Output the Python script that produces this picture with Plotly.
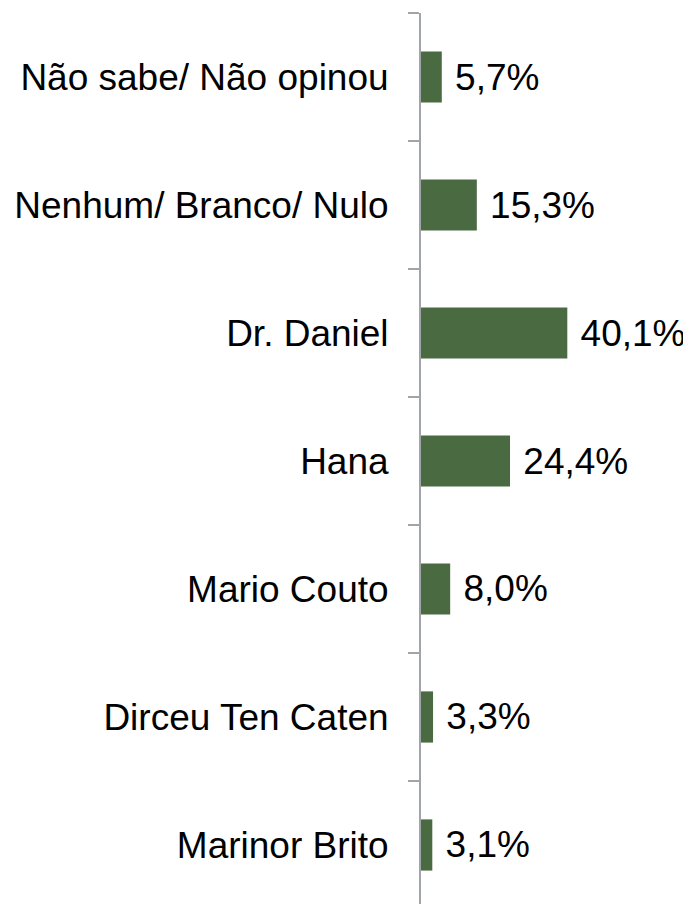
import plotly.graph_objects as go

# Data (top to bottom as shown)
categories = ["Não sabe/ Não opinou", "Nenhum/ Branco/ Nulo", "Dr. Daniel", "Hana",
              "Mario Couto", "Dirceu Ten Caten", "Marinor Brito"]
values = [5.7, 15.3, 40.1, 24.4, 8.0, 3.3, 3.1]
value_labels = ["5,7%", "15,3%", "40,1%", "24,4%", "8,0%", "3,3%", "3,1%"]

bar_color = "#4a6a42"
axis_color = "#a0a5aa"
font_family = "Arial, Liberation Sans, sans-serif"


def main():
    fig = go.Figure(go.Bar(
        x=values,
        y=categories,
        orientation="h",
        marker=dict(color=bar_color, line=dict(width=0)),
        text=["\u00a0" + t for t in value_labels],
        textposition="outside",
        textfont=dict(size=37, color="#000000", family=font_family),
        cliponaxis=False,
        hoverinfo="skip",
    ))

    # page body has an 8px margin, so offsets are shifted by 8
    fig.update_layout(
        width=691,
        height=904,
        margin=dict(l=413, r=8, t=5, b=8),
        paper_bgcolor="white",
        plot_bgcolor="white",
        bargap=0.6,
        showlegend=False,
        font=dict(family=font_family, size=37, color="#000000"),
        xaxis=dict(
            range=[0, 74],
            visible=False,
            showgrid=False,
            zeroline=False,
        ),
        yaxis=dict(
            type="category",
            categoryorder="array",
            categoryarray=categories,
            range=[6.461, -0.5],
            showline=True,
            linecolor=axis_color,
            linewidth=2,
            ticks="outside",
            tickson="boundaries",
            ticklen=11,
            tickwidth=2,
            tickcolor=axis_color,
            ticklabelstandoff=23,
            tickfont=dict(size=37, color="#000000", family=font_family),
            showgrid=False,
            zeroline=False,
            automargin=False,
        ),
    )

    fig.write_html("out.html")


if __name__ == "__main__":
    main()
